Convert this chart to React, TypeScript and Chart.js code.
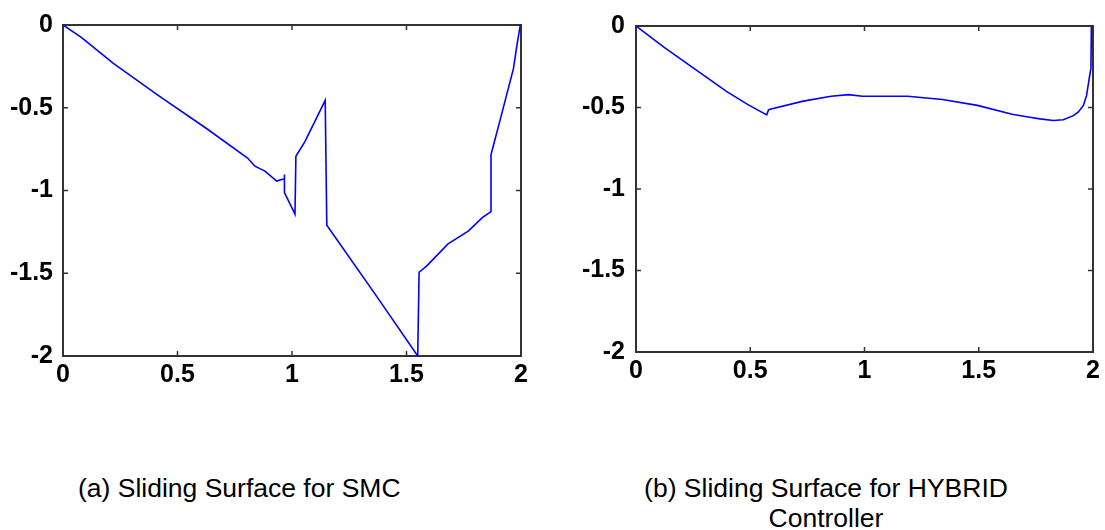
import React, { useEffect, useRef } from "react";
import { Chart, registerables } from "chart.js";

Chart.register(...registerables);

// ---- data ----
const xTickValues = [0, 0.5, 1, 1.5, 2];
const xTickLabels = ["0", "0.5", "1", "1.5", "2"];
const yTickValues = [0, -0.5, -1, -1.5, -2];
const yTickLabels = ["0", "-0.5", "-1", "-1.5", "-2"];

// (a) Sliding Surface for SMC
const smcX = [0, 0.08, 0.22, 0.414, 0.625, 0.806, 0.838, 0.882, 0.933, 0.955, 0.967, 0.967, 0.967, 1.013, 1.017, 1.057, 1.145, 1.148, 1.152, 1.379, 1.549, 1.555, 1.59, 1.68, 1.771, 1.831, 1.869, 1.869, 1.884, 1.907, 1.937, 1.967, 1.982, 1.997];
const smcY = [0, -0.075, -0.232, -0.424, -0.624, -0.804, -0.853, -0.883, -0.943, -0.933, -0.93, -0.903, -1.013, -1.143, -0.793, -0.703, -0.455, -0.455, -1.21, -1.658, -2.0, -1.494, -1.454, -1.324, -1.244, -1.164, -1.128, -0.784, -0.704, -0.584, -0.424, -0.264, -0.124, 0];

// (b) Sliding Surface for HYBRID Controller
const hybX = [0, 0.122, 0.244, 0.396, 0.488, 0.572, 0.58, 0.587, 0.732, 0.854, 0.93, 0.991, 1.1, 1.189, 1.341, 1.494, 1.646, 1.723, 1.768, 1.826, 1.87, 1.914, 1.936, 1.958, 1.972, 1.984, 1.991, 1.993];
const hybY = [0, -0.13, -0.251, -0.401, -0.481, -0.545, -0.515, -0.511, -0.461, -0.431, -0.421, -0.431, -0.431, -0.431, -0.451, -0.487, -0.541, -0.56, -0.57, -0.58, -0.575, -0.55, -0.527, -0.487, -0.426, -0.316, -0.26, 0];

const captionA = "(a) Sliding Surface for SMC";
const captionB1 = "(b) Sliding Surface for HYBRID";
const captionB2 = "Controller";

const FONT = "Arial, 'Liberation Sans', sans-serif";

const framePlugin = {
  id: "matlabFrame",
  beforeDatasetsDraw(chart: any) {
    const { ctx, chartArea, scales } = chart;
    const { left, right, top, bottom } = chartArea;
    const x = scales.x;
    const y = scales.y;
    ctx.save();
    ctx.strokeStyle = "#333";
    ctx.lineWidth = 2;
    ctx.strokeRect(left, top, right - left, bottom - top);
    ctx.beginPath();
    ctx.lineWidth = 1.5;
    const tl = 5;
    xTickValues.forEach((v) => {
      const px = x.getPixelForValue(v);
      ctx.moveTo(px, bottom);
      ctx.lineTo(px, bottom - tl);
      ctx.moveTo(px, top);
      ctx.lineTo(px, top + tl);
    });
    yTickValues.forEach((v) => {
      const py = y.getPixelForValue(v);
      ctx.moveTo(left, py);
      ctx.lineTo(left + tl, py);
      ctx.moveTo(right, py);
      ctx.lineTo(right - tl, py);
    });
    ctx.stroke();
    ctx.restore();
  },
};

type PlotProps = {
  xs: number[];
  ys: number[];
  left: number;
  width: number;
  height: number;
  padTop: number;
  padRight: number;
  yAxisWidth: number;
  xAxisHeight: number;
  yPad: number;
  xPad: number;
};

function Plot(p: PlotProps) {
  const ref = useRef<HTMLCanvasElement | null>(null);
  useEffect(() => {
    if (!ref.current) return;
    const tickFont = { family: FONT, size: 25, weight: "bold" as const };
    const chart = new Chart(ref.current, {
      type: "line",
      data: {
        datasets: [
          {
            data: p.xs.map((x, i) => ({ x, y: p.ys[i] })),
            borderColor: "#0000ff",
            borderWidth: 1.6,
            pointRadius: 0,
            tension: 0,
            fill: false,
          },
        ],
      },
      options: {
        animation: false,
        responsive: false,
        events: [],
        plugins: { legend: { display: false }, tooltip: { enabled: false } },
        layout: { padding: { top: p.padTop, right: p.padRight, bottom: 0, left: 0 } },
        scales: {
          x: {
            type: "linear",
            min: 0,
            max: 2,
            grid: { display: false, drawTicks: false },
            border: { display: false },
            afterBuildTicks: (s: any) => {
              s.ticks = xTickValues.map((v) => ({ value: v }));
            },
            afterFit: (s: any) => {
              s.height = p.xAxisHeight;
            },
            ticks: {
              font: tickFont,
              color: "#000",
              padding: p.xPad,
              maxRotation: 0,
              autoSkip: false,
              callback: (_v: any, i: number) => xTickLabels[i],
            },
          },
          y: {
            type: "linear",
            min: -2,
            max: 0,
            grid: { display: false, drawTicks: false },
            border: { display: false },
            afterBuildTicks: (s: any) => {
              s.ticks = [...yTickValues].reverse().map((v) => ({ value: v }));
            },
            afterFit: (s: any) => {
              s.width = p.yAxisWidth;
            },
            ticks: {
              font: tickFont,
              color: "#000",
              padding: p.yPad,
              autoSkip: false,
              callback: (_v: any, i: number) => [...yTickLabels].reverse()[i],
            },
          },
        },
      },
      plugins: [framePlugin],
    } as any);
    return () => chart.destroy();
  }, []);
  return (
    <canvas
      ref={ref}
      width={p.width}
      height={p.height}
      style={{ position: "absolute", left: p.left, top: 0, width: p.width, height: p.height }}
    />
  );
}

export default function App() {
  const captionStyle: React.CSSProperties = {
    position: "absolute",
    fontFamily: FONT,
    fontSize: 26.5,
    lineHeight: "30px",
    color: "#000",
    whiteSpace: "nowrap",
  };
  return (
    <div style={{ position: "absolute", left: 0, top: 0, width: 1105, height: 530, background: "#fff", overflow: "hidden" }}>
      <Plot xs={smcX} ys={smcY} left={0} width={550} height={400} padTop={23} padRight={29} yAxisWidth={63} xAxisHeight={44} yPad={10} xPad={4} />
      <Plot xs={hybX} ys={hybY} left={560} width={545} height={400} padTop={19} padRight={12} yAxisWidth={76} xAxisHeight={48} yPad={11} xPad={4} />
      <div style={{ ...captionStyle, left: 78, top: 473 }}>{captionA}</div>
      <div style={{ ...captionStyle, left: 626, top: 473, width: 400, textAlign: "center" }}>
        {captionB1}
        <br />
        {captionB2}
      </div>
    </div>
  );
}
